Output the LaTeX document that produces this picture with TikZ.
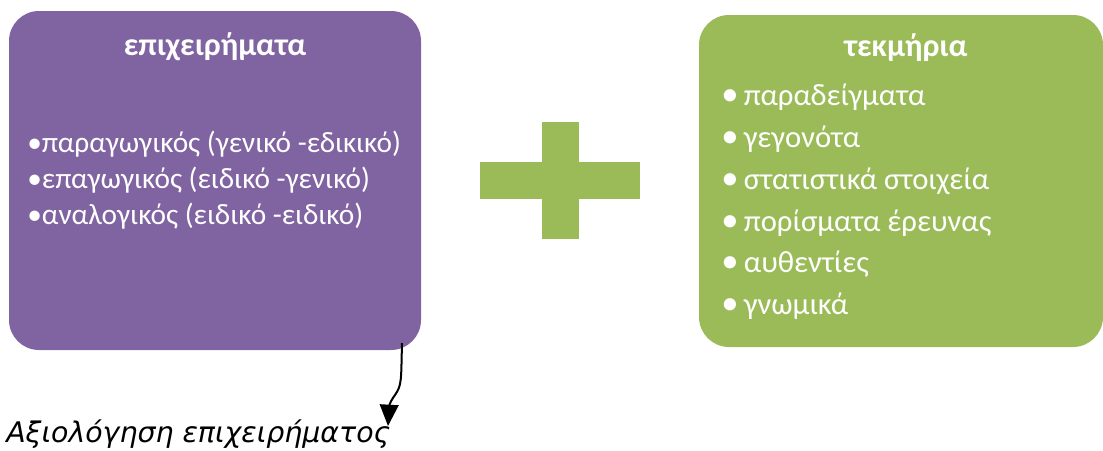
\documentclass[tikz,border=0pt]{standalone}
\usepackage{fontspec}
\setmainfont{Carlito}
\newfontfamily\labelfont{DejaVu Sans}
\usetikzlibrary{arrows.meta}
\definecolor{boxpurple}{HTML}{8064A2}
\definecolor{boxgreen}{HTML}{9BBB59}
\newcommand{\gbul}{{\fontsize{26}{31.3}\selectfont•}\hspace{4pt}}
\begin{document}
\begin{tikzpicture}[x=0.75pt,y=-0.75pt,
  panel/.style={rounded corners=22.5pt, draw=none},
  title/.style={text=white, font=\bfseries\fontsize{24}{28}\selectfont, anchor=center, inner sep=0pt},
  items/.style={text=white, anchor=north west, align=left, inner sep=0pt},
  conn/.style={line width=1.5pt, -{Triangle[length=16pt,width=14pt]}}]
\useasboundingbox (0,0) rectangle (1103,450);
% purple panel
\fill[boxpurple, panel] (9,11) rectangle (421,350);
\node[title] (ptitle) at (215,47) {επιχειρήματα};
\node[items, font=\fontsize{22}{27}\selectfont] (plist) at (27,131)
  {•παραγωγικός (γενικό -εδικικό)\\•επαγωγικός (ειδικό -γενικό)\\•αναλογικός (ειδικό -ειδικό)};
% green panel
\fill[boxgreen, panel] (699,15) rectangle (1103,347);
\node[title] (gtitle) at (906,48) {τεκμήρια};
\node[items, font=\fontsize{23}{31.3}\selectfont] (glist) at (721,84)
  {\gbul παραδείγματα\\\gbul γεγονότα\\\gbul στατιστικά στοιχεία\\\gbul πορίσματα έρευνας\\\gbul αυθεντίες\\\gbul γνωμικά};
% plus sign
\fill[boxgreen] (480,162) rectangle (640,199);
\fill[boxgreen] (542,122) rectangle (579,239);
% evaluation label and arrow
\node[anchor=base west, inner sep=0pt, font=\labelfont\itshape\fontsize{21.3}{25}\selectfont] (eval) at (6,442) {Αξιολόγηση επιχειρήματος};
\coordinate (astart) at (402,343);
\coordinate (aend) at (388,426);
\draw[conn] (astart) .. controls (401,380) and (402,385) .. (395,395) .. controls (389,403) and (389,408) .. (aend);
\end{tikzpicture}
\end{document}
